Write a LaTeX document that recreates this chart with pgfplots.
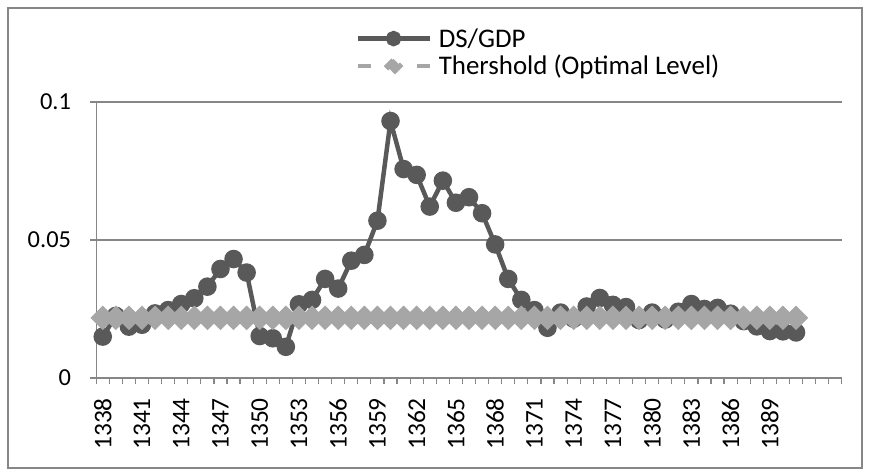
\documentclass[border=0pt]{standalone}
\usepackage{fontspec}
\setmainfont{Carlito}
\usepackage{pgfplots}
\pgfplotsset{compat=1.18}
\definecolor{ser}{HTML}{595959}
\definecolor{thr}{HTML}{A6A6A6}
\definecolor{gridc}{HTML}{868686}
\pgfplotstableread{
x y
0 0.0150
1 0.0225
2 0.0186
3 0.0193
4 0.0234
5 0.0246
6 0.0268
7 0.0289
8 0.0331
9 0.0395
10 0.0431
11 0.0382
12 0.0152
13 0.0144
14 0.0113
15 0.0267
16 0.0283
17 0.0359
18 0.0324
19 0.0425
20 0.0446
21 0.0570
22 0.0931
23 0.0757
24 0.0736
25 0.0621
26 0.0715
27 0.0635
28 0.0655
29 0.0597
30 0.0484
31 0.0359
32 0.0283
33 0.0246
34 0.0182
35 0.0237
36 0.0215
37 0.0259
38 0.0290
39 0.0265
40 0.0257
41 0.0210
42 0.0237
43 0.0212
44 0.0240
45 0.0268
46 0.0250
47 0.0254
48 0.0233
49 0.0206
50 0.0187
51 0.0170
52 0.0169
53 0.0165
}\dsgdp
\pgfplotstableread{
x y
0 0.0218
1 0.0218
2 0.0218
3 0.0218
4 0.0218
5 0.0218
6 0.0218
7 0.0218
8 0.0218
9 0.0218
10 0.0218
11 0.0218
12 0.0218
13 0.0218
14 0.0218
15 0.0218
16 0.0218
17 0.0218
18 0.0218
19 0.0218
20 0.0218
21 0.0218
22 0.0218
23 0.0218
24 0.0218
25 0.0218
26 0.0218
27 0.0218
28 0.0218
29 0.0218
30 0.0218
31 0.0218
32 0.0218
33 0.0218
34 0.0218
35 0.0218
36 0.0218
37 0.0218
38 0.0218
39 0.0218
40 0.0218
41 0.0218
42 0.0218
43 0.0218
44 0.0218
45 0.0218
46 0.0218
47 0.0218
48 0.0218
49 0.0218
50 0.0218
51 0.0218
52 0.0218
53 0.0218
}\thres
\begin{document}
\begin{tikzpicture}
\useasboundingbox (0bp,0bp) rectangle (872bp,476bp);
\draw[gridc, line width=1.2bp] (8bp,8bp) rectangle (862bp,468bp);
\begin{axis}[
  at={(96.2bp,98bp)}, anchor=south west,
  scale only axis, width=745.6bp, height=276bp,
  xmin=-0.5, xmax=56.5, ymin=0, ymax=0.1,
  axis x line=bottom, axis y line=left,
  axis line style={gridc, line width=1.2bp, -},
  tick style={gridc, line width=1.2bp},
  tick align=outside,
  major tick length=6bp, minor tick length=6bp,
  xtick={0,3,...,51},
  xticklabels={1338,1341,1344,1347,1350,1353,1356,1359,1362,1365,1368,1371,1374,1377,1380,1383,1386,1389},
  minor xtick={-0.5,0.5,...,56.5},
  x tick style={draw=none},
  minor x tick style={draw=gridc, line width=1.2bp},
  xticklabel shift=14bp,
  xticklabel style={rotate=90, anchor=east, inner sep=0pt, font=\fontsize{25.5}{28}\selectfont},
  ytick={0,0.05,0.1},
  yticklabels={0,0.05,0.1},
  yticklabel shift=19bp,
  yticklabel style={anchor=east, inner sep=0pt, font=\fontsize{24.5}{28}\selectfont},
  ymajorgrids, grid style={gridc, line width=1.2bp},
  /pgf/number format/assume math mode=true,
  clip=false,
  legend style={at={(0.593,1.18)}, anchor=center, draw=none, fill=none,
    font=\fontsize{27}{28}\selectfont, row sep=3bp, inner sep=0pt,
    /tikz/every even column/.append style={column sep=0pt}},
  legend cell align=left,
]
\addplot[ser, line width=4.5bp, mark=*, mark size=7bp, mark options={solid, fill=ser, draw=ser},
  legend image code/.code={\draw[ser, line width=4.5bp] (0bp,0bp) -- (72bp,0bp);
     \fill[ser] (36bp,0bp) circle (5.5bp);}]
  table[x=x,y=y]{\dsgdp};
\addlegendentry{\hspace{5bp}\raisebox{0pt}[19bp][1bp]{DS/GDP}}
\addplot[thr, line width=4bp, dash pattern=on 13bp off 8bp, mark=square*, mark size=6.7bp,
  mark options={solid, rotate=45, fill=thr, draw=thr},
  legend image code/.code={\draw[thr, line width=4bp] (0bp,0bp) -- (13bp,0bp);
     \draw[thr, line width=4bp] (59bp,0bp) -- (72bp,0bp);
     \fill[thr] (36bp,-7bp) -- (43bp,0bp) -- (36bp,7bp) -- (29bp,0bp) -- cycle;}]
  table[x=x,y=y]{\thres};
\addlegendentry{\hspace{5bp}\raisebox{0pt}[19bp][1bp]{Thershold (Optimal Level)}}
\end{axis}
\end{tikzpicture}
\end{document}
